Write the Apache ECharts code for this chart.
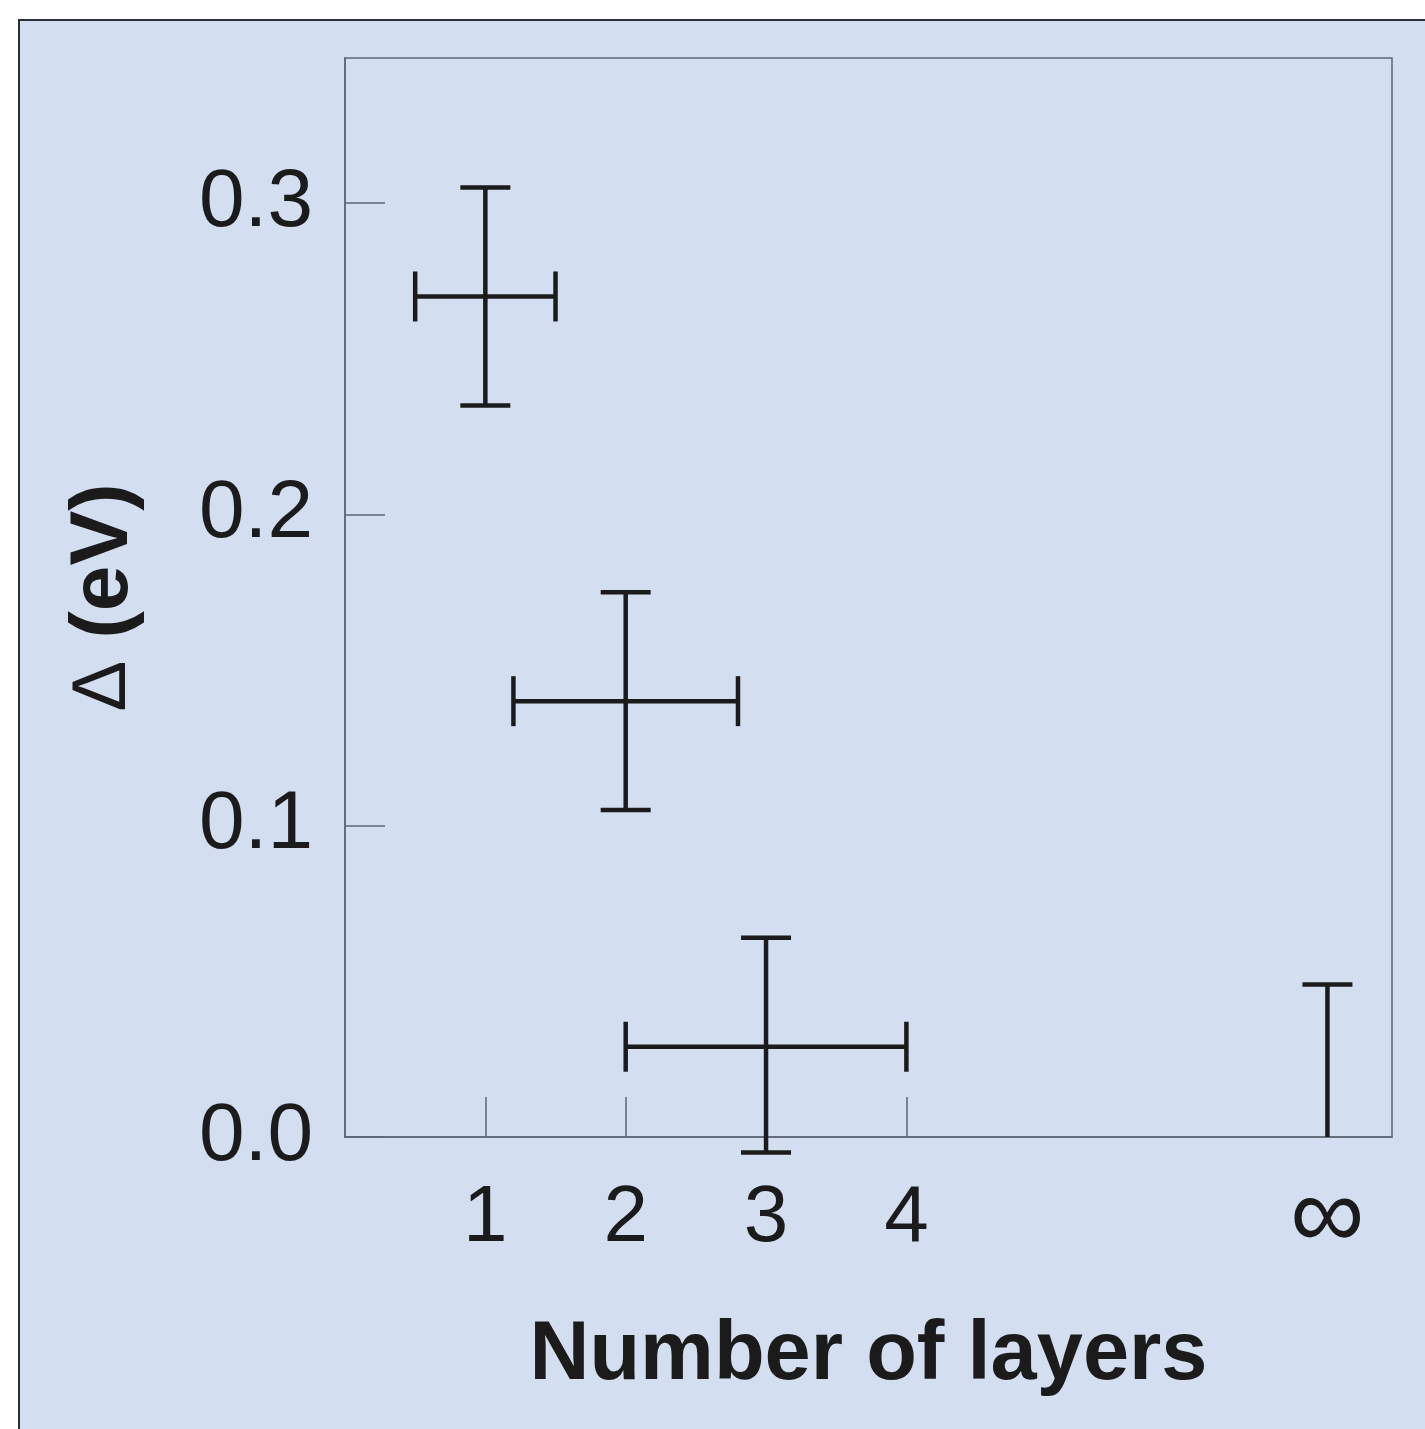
<!DOCTYPE html>
<html>
<head>
<meta charset="utf-8">
<script src="https://cdn.jsdelivr.net/npm/echarts@6/dist/echarts.min.js"></script>
<style>
  html, body { margin: 0; padding: 0; background: #ffffff; }
  #chart { width: 1425px; height: 1429px; }
</style>
</head>
<body>
<div id="chart"></div>
<script>
// ---- data ----
const layerX = [1, 2, 3, 7];                 // 7 is the "∞" position
const gapValues = [0.27, 0.14, 0.029, 0];
const xErr = [0.5, 0.8, 1.0, 0];
const yErrLow = [0.035, 0.035, 0.034, 0];
const yErrHigh = [0.035, 0.035, 0.035, 0.049];
const xTickValues = [1, 2, 3, 4];
const xLabelValues = [1, 2, 3, 4, 7];
const xLabelTexts = ['1', '2', '3', '4', '∞'];
const yTickValues = [0, 0.1, 0.2, 0.3];

const seriesData = layerX.map((x, i) => [x, gapValues[i], xErr[i], yErrLow[i], yErrHigh[i]]);

const chart = echarts.init(document.getElementById('chart'), null, { renderer: 'canvas' });
const axisColor = '#5d6775';
const ink = '#1b1b1b';
const font = 'Liberation Sans, Arial, Helvetica, sans-serif';

function renderErr(params, api) {
  const x = api.value(0), y = api.value(1), ex = api.value(2), eLo = api.value(3), eHi = api.value(4);
  const c = api.coord([x, y]);
  const top = api.coord([x, y + eHi]);
  const bot = api.coord([x, y - eLo]);
  const cap = 25;
  const style = { stroke: ink, lineWidth: 4.5, fill: null };
  const children = [];
  children.push({ type: 'line', shape: { x1: c[0], y1: bot[1], x2: c[0], y2: top[1] }, style });
  if (eHi > 0) children.push({ type: 'line', shape: { x1: c[0] - cap, y1: top[1], x2: c[0] + cap, y2: top[1] }, style });
  if (eLo > 0) children.push({ type: 'line', shape: { x1: c[0] - cap, y1: bot[1], x2: c[0] + cap, y2: bot[1] }, style });
  if (ex > 0) {
    const l = api.coord([x - ex, y]);
    const r = api.coord([x + ex, y]);
    children.push({ type: 'line', shape: { x1: l[0], y1: c[1], x2: r[0], y2: c[1] }, style });
    children.push({ type: 'line', shape: { x1: l[0], y1: c[1] - cap, x2: l[0], y2: c[1] + cap }, style });
    children.push({ type: 'line', shape: { x1: r[0], y1: c[1] - cap, x2: r[0], y2: c[1] + cap }, style });
  }
  return { type: 'group', children };
}

chart.setOption({
  backgroundColor: '#ffffff',
  animation: false,
  graphic: [
    { type: 'rect', z: -10, shape: { x: 19, y: 20, width: 1420, height: 1420 },
      style: { fill: '#d3dff0', stroke: '#2a2f38', lineWidth: 2 } }
  ],
  grid: {
    left: 345, top: 58, right: 33, bottom: 292,
    show: true, borderColor: axisColor, borderWidth: 1.5, backgroundColor: 'transparent'
  },
  xAxis: {
    type: 'value', min: 0, max: 7.46,
    name: 'Number of layers', nameLocation: 'middle', nameGap: 178,
    nameTextStyle: { fontFamily: font, fontWeight: 'bold', fontSize: 83, color: ink },
    axisLine: { show: true, lineStyle: { color: axisColor, width: 1.5 } },
    axisTick: { show: true, inside: true, length: 40, customValues: xTickValues, lineStyle: { color: axisColor, width: 1.5 } },
    axisLabel: {
      customValues: xLabelValues, margin: 42, fontFamily: font, fontSize: 80, color: ink,
      formatter: v => {
        const i = xLabelValues.indexOf(v);
        if (i < 0) return '';
        const t = xLabelTexts[i];
        return t === '∞' ? '{inf|' + t + '}' : t;
      },
      rich: { inf: { fontFamily: font, fontSize: 104, lineHeight: 80, color: ink } }
    },
    splitLine: { show: false }
  },
  yAxis: {
    type: 'value', min: 0, max: 0.3466,
    name: '{d|Δ} {b|(eV)}', nameLocation: 'middle', nameGap: 200, nameRotate: 90,
    nameTextStyle: {
      fontFamily: font, fontSize: 80, color: ink,
      rich: { d: { fontFamily: font, fontSize: 76, color: ink }, b: { fontFamily: font, fontWeight: 'bold', fontSize: 82, color: ink } }
    },
    axisLine: { show: true, lineStyle: { color: axisColor, width: 1.5 } },
    axisTick: { show: true, inside: true, length: 40, customValues: yTickValues, lineStyle: { color: axisColor, width: 1.5 } },
    axisLabel: {
      customValues: yTickValues, margin: 32, fontFamily: font, fontSize: 82, color: ink,
      formatter: v => v.toFixed(1)
    },
    splitLine: { show: false }
  },
  series: [{
    type: 'custom',
    renderItem: renderErr,
    encode: { x: 0, y: 1 },
    data: seriesData,
    clip: false,
    z: 5
  }]
});
</script>
</body>
</html>
